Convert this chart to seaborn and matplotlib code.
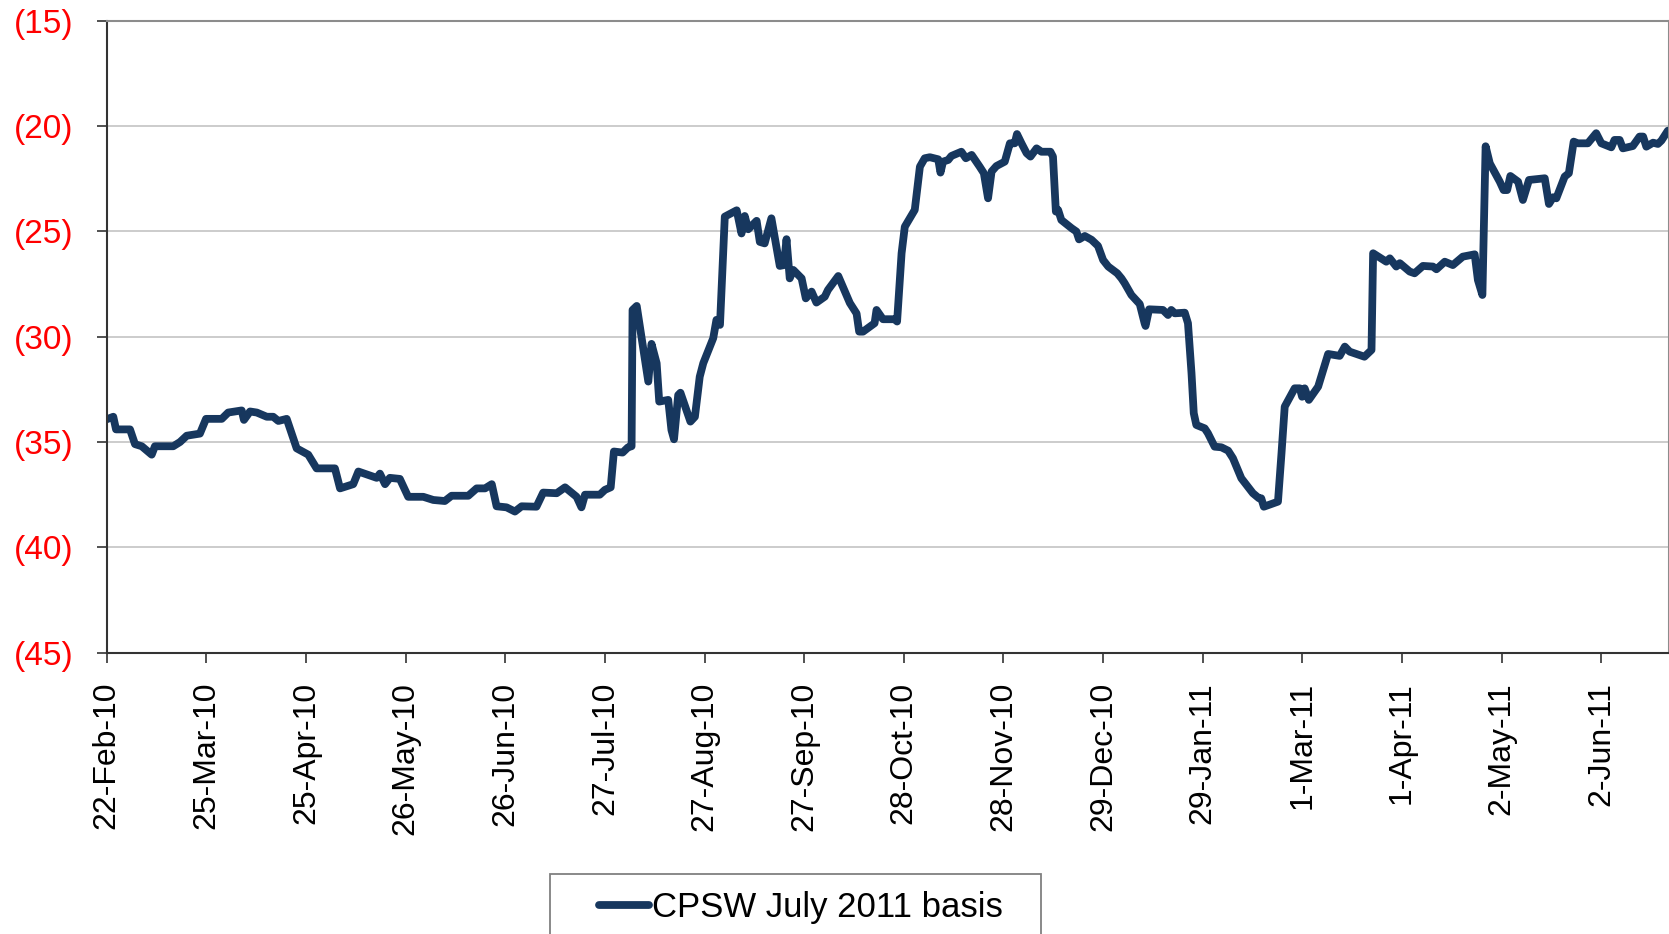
import numpy as np
import pandas as pd
import matplotlib
matplotlib.use("Agg")
import matplotlib.pyplot as plt
from matplotlib.ticker import FuncFormatter
from matplotlib.patches import Rectangle
import seaborn as sns

# ---- data ----
start_date = "2010-02-22"
series_name = "CPSW July 2011 basis"
day_offset = [
    0.0, 2.05, 2.9, 7.25, 8.8, 10.9, 14.0, 15.0, 20.7, 22.8, 24.9, 29.0, 30.9, 35.8, 37.8,
    42.0, 42.7, 44.6, 46.7, 49.8, 51.8, 53.4, 56.0, 59.1, 62.7, 65.3, 71.0, 72.6, 76.7, 78.3,
    84.0, 85.0, 86.6, 88.1, 91.2, 93.8, 98.5, 101.6, 105.2, 107.3, 112.5, 115.1, 117.7, 119.8,
    121.3, 124.4, 127.0, 129.1, 133.7, 135.8, 140.0, 142.6, 146.2, 147.7, 148.8, 153.4, 155.0,
    156.8, 157.8, 160.5, 162.2, 163.3, 163.6, 164.9, 168.5, 169.5, 171.1, 171.9, 174.7, 175.7,
    176.5, 177.8, 178.5, 181.6, 183.0, 184.5, 185.6, 188.7, 189.7, 190.8, 192.3, 196.0, 197.5,
    198.5, 199.6, 202.2, 203.2, 204.7, 206.8, 209.4, 210.7, 211.5, 212.5, 213.6, 216.2, 217.5,
    219.3, 220.8, 223.4, 224.4, 227.6, 231.2, 233.3, 234.1, 235.3, 238.9, 239.5, 241.5, 245.2,
    245.9, 247.3, 248.3, 251.4, 253.0, 254.5, 256.1, 258.7, 259.4, 260.2, 261.8, 262.8, 265.9,
    267.3, 269.1, 271.6, 272.9, 274.2, 275.3, 276.8, 279.4, 281.0, 282.5, 283.2, 284.6, 286.2,
    287.4, 289.3, 290.8, 293.6, 294.4, 295.3, 296.0, 297.0, 300.2, 301.7, 302.5, 304.3, 306.4,
    308.4, 310.0, 311.6, 314.4, 315.7, 316.7, 318.8, 321.4, 322.9, 323.2, 324.3, 328.6, 330.2,
    331.2, 332.3, 335.4, 336.4, 337.5, 338.2, 339.0, 341.6, 342.6, 344.7, 346.8, 348.9, 350.4,
    353.0, 356.6, 358.5, 359.2, 360.0, 364.4, 365.5, 366.5, 369.6, 371.2, 371.9, 372.7, 374.0,
    376.9, 380.0, 383.6, 385.2, 386.7, 391.3, 393.5, 394.0, 398.1, 399.2, 401.2, 402.3, 405.4,
    406.9, 409.5, 412.6, 413.7, 416.3, 418.8, 421.9, 425.6, 426.6, 428.0, 429.0, 430.3, 433.4,
    434.6, 435.7, 436.7, 439.1, 440.6, 442.5, 447.4, 448.7, 450.0, 451.0, 453.6, 454.9, 456.4,
    457.7, 460.8, 463.4, 465.0, 468.1, 469.1, 470.7, 471.7, 474.8, 476.9, 478.0, 479.0, 481.1,
    482.6, 483.7, 485.7,
]
basis = [
    -33.92, -33.8, -34.4, -34.4, -35.1, -35.2, -35.6, -35.2, -35.2, -35.0, -34.7, -34.6, -33.9, -33.9, -33.6,
    -33.5, -33.95, -33.55, -33.6, -33.8, -33.8, -34.0, -33.9, -35.3, -35.6, -36.25, -36.25, -37.2, -37.0, -36.4,
    -36.7, -36.5, -37.0, -36.7, -36.75, -37.6, -37.6, -37.75, -37.8, -37.55, -37.55, -37.2, -37.2, -37.0,
    -38.05, -38.1, -38.3, -38.05, -38.07, -37.4, -37.43, -37.15, -37.6, -38.1, -37.5, -37.5, -37.27,
    -37.15, -35.45, -35.5, -35.25, -35.2, -28.73, -28.54, -32.13, -30.34, -31.26, -33.08, -33.0, -34.43,
    -34.87, -32.77, -32.66, -34.03, -33.8, -31.9, -31.26, -30.07, -29.2, -29.44, -24.3, -24.0, -25.1,
    -24.27, -24.9, -24.5, -25.5, -25.57, -24.38, -26.64, -26.6, -25.37, -27.23, -26.83, -27.23, -28.18,
    -27.86, -28.38, -28.1, -27.78, -27.12, -28.4, -28.9, -29.76, -29.76, -29.36, -28.73, -29.17, -29.17,
    -29.28, -26.04, -24.78, -23.98, -21.93, -21.53, -21.48, -21.58, -22.21, -21.69, -21.61, -21.42, -21.22,
    -21.53, -21.37, -21.93, -22.24, -23.43, -22.16, -21.9, -21.69, -20.82, -20.82, -20.38, -20.82, -21.29,
    -21.45, -21.06, -21.22, -21.22, -21.45, -24.06, -23.98, -24.46, -24.85, -25.01, -25.38, -25.22, -25.4,
    -25.69, -26.36, -26.67, -26.99, -27.23, -27.46, -28.02, -28.45, -29.36, -29.49, -28.7, -28.73, -28.97,
    -28.73, -28.89, -28.86, -29.36, -31.73, -33.63, -34.19, -34.35, -34.58, -35.22, -35.25, -35.41, -35.77,
    -36.72, -37.43, -37.67, -37.67, -38.07, -37.83, -35.53, -33.32, -32.45, -32.45, -32.85, -32.45, -33.0,
    -32.37, -30.82, -30.91, -30.47, -30.71, -30.95, -30.63, -26.04, -26.44, -26.28, -26.67, -26.51, -26.91,
    -26.99, -26.64, -26.67, -26.8, -26.44, -26.6, -26.2, -26.09, -27.31, -28.02, -20.96, -21.77, -22.64,
    -23.04, -23.04, -22.37, -22.64, -23.51, -22.56, -22.48, -23.7, -23.38, -23.43, -22.4, -22.24, -20.74,
    -20.82, -20.82, -20.34, -20.82, -21.01, -20.66, -20.66, -21.06, -20.95, -20.5, -20.5, -20.98, -20.79,
    -20.85, -20.69, -20.22,
]
y_ticks = [-45, -40, -35, -30, -25, -20, -15]
x_tick_step_days = 31
n_x_ticks = 16
x_end_days = 485.9

# ---- build ----
t0 = pd.Timestamp(start_date)
dates = t0 + pd.to_timedelta(day_offset, unit="D")
df = pd.DataFrame({"date": dates, "basis": basis, "series": series_name})

sns.set_theme(style="white")
plt.rcParams["font.family"] = ["Liberation Sans", "DejaVu Sans"]
plt.rcParams["text.color"] = "black"

W, H = 1669, 934
fig = plt.figure(figsize=(W / 100, H / 100), dpi=100)
ax = fig.add_axes([106.7 / W, 1 - 652.7 / H, (1668.5 - 106.7) / W, (652.7 - 20.7) / H])

line_color = "#17375E"
lw = 5.6
sns.lineplot(data=df, x="date", y="basis", ax=ax, color=line_color, linewidth=lw,
             estimator=None, sort=False, legend=False)
for ln in ax.get_lines():
    ln.set_solid_joinstyle("round")
    ln.set_solid_capstyle("round")

ax.set_ylim(-45, -15)
ax.set_xlim(t0, t0 + pd.Timedelta(days=x_end_days))

ax.set_yticks(y_ticks)
ax.yaxis.set_major_formatter(FuncFormatter(lambda v, p: f"({abs(int(round(v)))})"))
tick_dates = [t0 + pd.Timedelta(days=x_tick_step_days * k) for k in range(n_x_ticks)]
ax.set_xticks(tick_dates)
ax.set_xticklabels([f"{d.day}-{d.strftime('%b-%y')}" for d in tick_dates], rotation=90)

ax.grid(axis="y", color="#C8C8C8", linewidth=1.3)
ax.grid(axis="x", visible=False)
ax.set_axisbelow(True)

ax.tick_params(axis="y", which="major", direction="out", length=7, width=1.2,
               color="#333333", labelsize=24, labelcolor="#FF0000", pad=17, left=True)
ax.tick_params(axis="x", which="major", direction="out", length=7, width=1.2,
               color="#333333", labelsize=23, labelcolor="black", pad=14, bottom=True)

for side in ["left", "bottom"]:
    ax.spines[side].set_color("#333333")
    ax.spines[side].set_linewidth(1.5)
for side in ["top", "right"]:
    ax.spines[side].set_color("#8C8C8C")
    ax.spines[side].set_linewidth(1.5)

ax.set_xlabel("")
ax.set_ylabel("")

# legend frame and legend
fig.patches.append(Rectangle((550 / W, -0.05), (1041 - 550) / W, (1 - 874 / H) + 0.05,
                             transform=fig.transFigure, facecolor="white",
                             edgecolor="#808080", linewidth=1.3, zorder=1))
handle = plt.Line2D([], [], color=line_color, linewidth=lw, solid_capstyle="round")
leg = fig.legend([handle], [series_name], loc="center left",
                 bbox_to_anchor=(599 / W, 1 - 908 / H), frameon=False,
                 fontsize=25, handlelength=1.45, handletextpad=0.08, borderpad=0,
                 borderaxespad=0)
for t in leg.get_texts():
    t.set_color("black")

fig.savefig("out.png", dpi=100)
